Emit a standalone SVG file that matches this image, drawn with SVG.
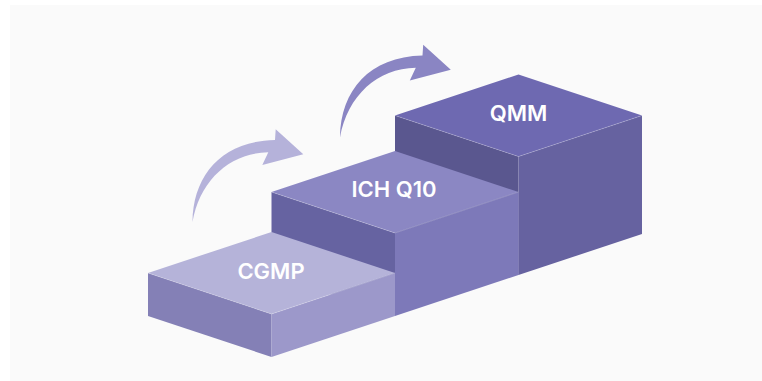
<svg xmlns="http://www.w3.org/2000/svg" width="762" height="381" viewBox="0 0 762 381">
  <style>
    .lbl { font-family: Inter, "Noto Sans", "Liberation Sans", sans-serif; font-size: 22px; font-weight: 600; fill: #ffffff; text-anchor: middle; }
    .edge { fill: none; stroke: #ffffff; stroke-opacity: 0.25; stroke-width: 0.8; }
  </style>
  <defs>
    <path id="curvedArrow" d="M192.5,222 C193,175 222,141 275,140 L275.7,129.3 L303.3,154.3 L262.3,165 L268.3,152.3 C230,153 200,180 192.5,222 Z"/>
  </defs>
  <rect x="0" y="0" width="762" height="381" fill="#ffffff"/>
  <rect x="10" y="5" width="752" height="376" fill="#fafafa"/>

  <g id="step-qmm">
    <polygon points="395,115.5 518.5,156.5 518.5,275 395,234" fill="#5a578f"/>
    <polygon points="518.5,156.5 642,115.5 642,234 518.5,275" fill="#6662a0"/>
    <polygon points="395,115.5 518.5,74.5 642,115.5 518.5,156.5" fill="#6e69b1"/>
    <polyline class="edge" points="395,115.5 518.5,156.5 642,115.5"/>
    <text class="lbl" x="518.5" y="121">QMM</text>
  </g>

  <g id="step-ich-q10">
    <polygon points="271.5,192 395,233 395,316 271.5,275" fill="#6663a1"/>
    <polygon points="395,233 518.5,192 518.5,275 395,316" fill="#7d79b9"/>
    <polygon points="271.5,192 395,151 518.5,192 395,233" fill="#8b87c3"/>
    <polyline class="edge" points="271.5,192 395,233 518.5,192"/>
    <text class="lbl" x="394" y="197">ICH Q10</text>
  </g>

  <g id="step-cgmp">
    <polygon points="148,273 271.5,314 271.5,357 148,316" fill="#8480b6"/>
    <polygon points="271.5,314 395,273 395,316 271.5,357" fill="#9c98ca"/>
    <polygon points="148,273 271.5,232 395,273 271.5,314" fill="#b5b3d9"/>
    <polyline class="edge" points="148,273 271.5,314 395,273"/>
    <text class="lbl" x="271" y="279">CGMP</text>
  </g>

  <g id="connectors">
    <use href="#curvedArrow" fill="#b5b2da"/>
    <use href="#curvedArrow" fill="#8a85c3" transform="translate(147.5,-84.5)"/>
  </g>
</svg>
